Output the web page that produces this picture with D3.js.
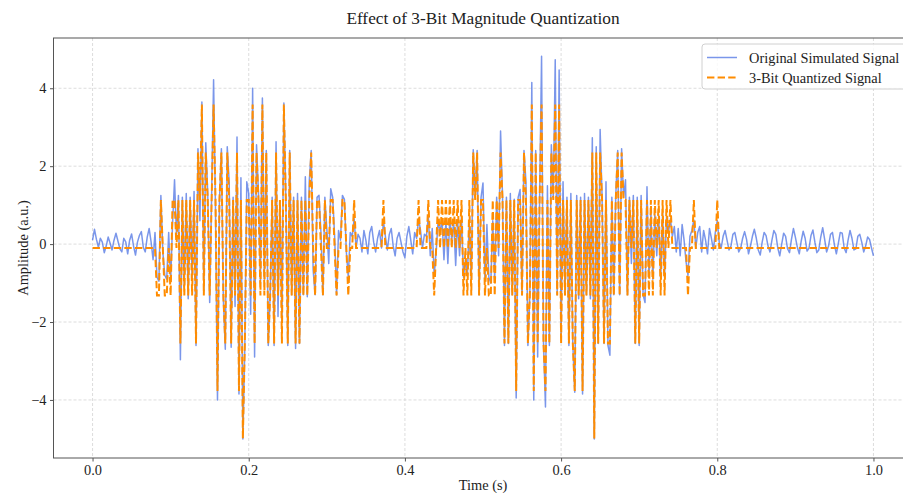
<!DOCTYPE html>
<html>
<head>
<meta charset="utf-8">
<script src="https://cdn.jsdelivr.net/npm/d3@7"></script>
<style>
    body { margin: 0; background: #fff; }
    svg { display: block; font-family: "Liberation Serif", "Times New Roman", serif; }
</style>
</head>
<body>
<div id="visualizer"></div>
<script>
// Data (one sample every 1/400 s)
const sampleRate = 400;

const originalSignal = [
    // 0
    0.10, 0.38, 0.12, -0.08, 0.15, 0.05, -0.22, -0.05, 0.18, 0.02,
    -0.15, 0.10, 0.28, 0.08, -0.12, -0.20, 0.15, 0.06, -0.25, 0.10,
    0.26, -0.05, -0.28, 0.05, 0.22, 0.32, -0.08, -0.20, 0.18, 0.40,
    0.05, -0.40, 0.30, -0.85, -0.95, 1.25, -0.20, -0.80, -0.90, 0.30,
    -0.95, 0.55, 1.65, 0.20, 1.25, -2.97, 1.20, -1.10, 1.30, -1.40,
    // 50
    1.20, -0.90, 1.35, -2.60, 2.45, 0.60, 3.65, -1.20, 2.60, 1.30,
    -1.50, 1.25, 4.22, 0.80, -4.00, 1.10, 2.45, -1.40, -2.70, 2.50,
    1.57, -2.65, 1.20, -1.60, 2.75, -3.85, 1.70, -5.00, -2.60, 1.60,
    1.30, -1.80, 4.00, -2.90, 2.55, 1.30, -1.00, 3.75, -0.90, 2.40,
    -2.60, -1.30, 1.20, -2.60, 2.63, -1.86, 1.10, -2.00, 3.62, 1.20,
    // 100
    -2.60, 2.40, -1.30, 1.20, -2.68, 1.30, -2.55, 1.20, -1.30, 1.73,
    -1.35, 1.60, 2.40, -0.66, -1.30, 1.20, 1.25, 0.30, -1.30, 1.20,
    0.40, -0.50, 1.42, 1.20, 0.20, -1.30, 0.35, 0.10, 1.25, 1.15,
    -0.20, -0.85, 0.30, 0.20, 0.65, -0.10, 0.25, 0.15, -0.20, 0.35,
    0.10, -0.25, 0.30, 0.45, 0.05, -0.20, 0.15, 0.35, -0.10, 0.60,
    // 150
    0.20, -0.15, 0.25, 0.40, -0.05, -0.30, 0.15, 0.30, 0.05, -0.20,
    -0.35, 0.20, 0.45, 0.10, -0.25, 0.30, 0.15, 0.65, 0.35, -0.10,
    0.25, 0.20, 0.70, -0.30, 0.40, -0.80, -0.20, 0.60, 0.30, 0.65,
    -0.40, 0.60, -0.50, 0.65, 0.10, 0.58, -0.55, 0.62, -0.30, 0.70,
    -0.85, -0.40, -0.80, 0.60, -0.90, 2.42, 1.20, 2.40, -1.30, 1.20,
    // 200
    1.57, -0.95, 0.50, -0.85, -1.00, 0.60, -0.90, 1.20, -0.30, 2.90,
    1.25, -2.60, 1.20, -2.55, 1.30, -1.30, 1.15, -3.95, 1.20, 1.40,
    -1.30, 2.40, 1.60, -2.60, -1.30, 4.15, -4.00, 2.40, -2.90, 1.20,
    4.82, -2.55, -4.18, 1.50, -2.60, 2.55, 1.20, 4.73, -1.30, 4.47,
    -2.40, 1.60, -1.30, 1.20, -2.60, 1.30, -2.55, -3.80, 1.25, -1.40,
    // 250
    1.20, -3.85, 1.30, -1.30, 1.20, -1.40, 2.73, -5.00, 2.50, -2.55,
    2.94, 1.20, -2.55, 1.60, -2.60, -2.85, 1.20, -1.30, 1.25, 2.40,
    -1.30, 2.45, 1.20, 1.65, -1.30, 1.20, -0.50, 1.25, -2.55, 1.20,
    -2.60, 1.25, -1.30, -1.50, 1.47, -0.85, 0.80, -0.90, 0.75, -0.30,
    0.75, -0.90, 0.80, -0.85, 0.70, 0.30, 0.65, 0.20, 0.45, -0.20,
    // 300
    0.40, -0.30, 0.50, 0.10, -0.45, -0.80, 0.20, 0.35, 0.62, -0.10,
    0.30, 0.45, -0.20, 0.35, 0.10, -0.25, 0.40, 0.15, -0.15, 0.30,
    0.60, 0.05, -0.10, 0.20, 0.35, 0.10, -0.15, -0.05, 0.25, 0.30,
    0.05, -0.20, -0.10, 0.15, 0.32, 0.12, -0.25, -0.05, 0.20, 0.38,
    0.15, -0.15, -0.28, 0.05, 0.30, 0.22, -0.05, -0.20, 0.10, 0.35,
    // 350
    0.25, -0.10, -0.30, 0.00, 0.28, 0.20, -0.12, -0.22, 0.12, 0.40,
    0.18, -0.08, -0.25, 0.08, 0.33, 0.15, -0.18, -0.10, 0.22, 0.36,
    0.05, -0.22, -0.15, 0.18, 0.42, 0.12, -0.20, -0.05, 0.25, 0.30,
    -0.02, -0.25, 0.02, 0.30, 0.28, -0.10, -0.22, 0.10, 0.35, 0.15,
    -0.15, -0.12, 0.20, 0.25, 0.05, -0.20, -0.05, 0.18, 0.12, -0.10,
    // 400
    -0.30
];

// the 8 output levels of the 3-bit quantizer
const quantLevels = [-4.99, -3.77, -2.55, -1.32, -0.10, 1.13, 2.35, 3.58];

// 3-bit code of each sample (index into quantLevels)
const quantizedCode = [
    // 0
    4, 4, 4, 4, 4, 4, 4, 4, 4, 4,
    4, 4, 4, 4, 4, 4, 4, 4, 4, 4,
    4, 4, 4, 4, 4, 4, 4, 4, 4, 4,
    4, 4, 4, 3, 3, 5, 4, 3, 3, 4,
    3, 5, 5, 4, 5, 2, 5, 3, 5, 3,
    // 50
    5, 3, 5, 2, 6, 5, 7, 3, 6, 5,
    3, 5, 7, 5, 1, 5, 6, 3, 2, 6,
    5, 2, 5, 3, 6, 1, 5, 0, 2, 5,
    5, 3, 7, 2, 6, 5, 3, 7, 3, 6,
    2, 3, 5, 2, 6, 3, 5, 2, 7, 5,
    // 100
    2, 6, 3, 5, 2, 5, 2, 5, 3, 5,
    3, 5, 6, 4, 3, 5, 5, 4, 3, 5,
    4, 4, 5, 5, 4, 3, 4, 4, 5, 5,
    4, 3, 4, 4, 5, 4, 4, 4, 4, 4,
    4, 4, 4, 4, 4, 4, 4, 4, 4, 5,
    // 150
    4, 4, 4, 4, 4, 4, 4, 4, 4, 4,
    4, 4, 4, 4, 4, 4, 4, 5, 4, 4,
    4, 4, 5, 4, 4, 3, 4, 5, 4, 5,
    4, 5, 4, 5, 4, 5, 4, 5, 4, 5,
    3, 4, 3, 5, 3, 6, 5, 6, 3, 5,
    // 200
    5, 3, 4, 3, 3, 5, 3, 5, 4, 6,
    5, 2, 5, 2, 5, 3, 5, 1, 5, 5,
    3, 6, 5, 2, 3, 7, 1, 6, 2, 5,
    7, 2, 1, 5, 2, 6, 5, 7, 3, 7,
    2, 5, 3, 5, 2, 5, 2, 1, 5, 3,
    // 250
    5, 1, 5, 3, 5, 3, 6, 0, 6, 2,
    6, 5, 2, 5, 2, 2, 5, 3, 5, 6,
    3, 6, 5, 5, 3, 5, 4, 5, 2, 5,
    2, 5, 3, 3, 5, 3, 5, 3, 5, 4,
    5, 3, 5, 3, 5, 4, 5, 4, 4, 4,
    // 300
    4, 4, 4, 4, 4, 3, 4, 4, 5, 4,
    4, 4, 4, 4, 4, 4, 4, 4, 4, 4,
    5, 4, 4, 4, 4, 4, 4, 4, 4, 4,
    4, 4, 4, 4, 4, 4, 4, 4, 4, 4,
    4, 4, 4, 4, 4, 4, 4, 4, 4, 4,
    // 350
    4, 4, 4, 4, 4, 4, 4, 4, 4, 4,
    4, 4, 4, 4, 4, 4, 4, 4, 4, 4,
    4, 4, 4, 4, 4, 4, 4, 4, 4, 4,
    4, 4, 4, 4, 4, 4, 4, 4, 4, 4,
    4, 4, 4, 4, 4, 4, 4, 4, 4, 4,
    // 400
    4
];

const xTicks = [0.0, 0.2, 0.4, 0.6, 0.8, 1.0];
const yTicks = [-4, -2, 0, 2, 4];
const seriesNames = ["Original Simulated Signal", "3-Bit Quantized Signal"];

function onDOMContentLoaded() {
    // SVG props
    const width = 903,
        height = 493;
    const plot = { left: 53.5, right: 912.5, top: 38, bottom: 458 };
    const blue = "#4169e1",
        orange = "#ff8c00",
        textColor = "#222";

    const quantizedSignal = quantizedCode.map(c => quantLevels[c]);

    const svg = d3.select("#visualizer")
        .append("svg")
        .attr("width", width)
        .attr("height", height);

    svg.append("rect")
        .attr("width", width)
        .attr("height", height)
        .attr("fill", "#fff");

    // scales (5% padding like matplotlib)
    const xScale = d3.scaleLinear()
        .domain([-0.05, 1.05])
        .range([plot.left, plot.right]);
    const yScale = d3.scaleLinear()
        .domain([-5.49, 5.29])
        .range([plot.bottom, plot.top]);

    // grid
    const grid = svg.append("g")
        .attr("stroke", "#d4d4d4")
        .attr("stroke-width", 0.8)
        .attr("stroke-dasharray", "3,2");
    grid.selectAll(".vgrid")
        .data(xTicks)
        .join("line")
        .attr("x1", d => xScale(d))
        .attr("x2", d => xScale(d))
        .attr("y1", plot.top)
        .attr("y2", plot.bottom);
    grid.selectAll(".hgrid")
        .data(yTicks)
        .join("line")
        .attr("x1", plot.left)
        .attr("x2", plot.right)
        .attr("y1", d => yScale(d))
        .attr("y2", d => yScale(d));

    // lines
    svg.append("clipPath")
        .attr("id", "plot-clip")
        .append("rect")
        .attr("x", plot.left)
        .attr("y", plot.top)
        .attr("width", plot.right - plot.left)
        .attr("height", plot.bottom - plot.top);

    const line = d3.line()
        .x((d, i) => xScale(i / sampleRate))
        .y(d => yScale(d));

    const lines = svg.append("g").attr("clip-path", "url(#plot-clip)");
    lines.append("path")
        .datum(originalSignal)
        .attr("d", line)
        .attr("fill", "none")
        .attr("stroke", blue)
        .attr("stroke-opacity", 0.7)
        .attr("stroke-width", 1.5)
        .attr("stroke-linejoin", "round");
    lines.append("path")
        .datum(quantizedSignal)
        .attr("d", line)
        .attr("fill", "none")
        .attr("stroke", orange)
        .attr("stroke-width", 2)
        .attr("stroke-dasharray", "7.4,3.2");

    // frame
    svg.append("rect")
        .attr("x", plot.left)
        .attr("y", plot.top)
        .attr("width", plot.right - plot.left)
        .attr("height", plot.bottom - plot.top)
        .attr("fill", "none")
        .attr("stroke", "#555")
        .attr("stroke-width", 1);

    // x axis
    const xAxis = d3.axisBottom(xScale)
        .tickValues(xTicks)
        .tickFormat(d3.format(".1f"))
        .tickSize(3.5)
        .tickPadding(3);
    const gx = svg.append("g")
        .attr("transform", `translate(0, ${plot.bottom})`)
        .call(xAxis);

    // y axis
    const yAxis = d3.axisLeft(yScale)
        .tickValues(yTicks)
        .tickFormat(d3.format("d"))
        .tickSize(3.5)
        .tickPadding(3.5);
    const gy = svg.append("g")
        .attr("transform", `translate(${plot.left}, 0)`)
        .call(yAxis);

    [gx, gy].forEach(g => {
        g.select(".domain").remove();
        g.selectAll(".tick line").attr("stroke", "#555");
        g.selectAll(".tick text")
            .attr("fill", textColor)
            .style("font-family", "\"Liberation Serif\", serif")
            .style("font-size", "14.4px");
    });

    // labels
    svg.append("text")
        .attr("x", (plot.left + plot.right) / 2)
        .attr("y", 24)
        .attr("text-anchor", "middle")
        .attr("fill", textColor)
        .style("font-size", "17.3px")
        .text("Effect of 3-Bit Magnitude Quantization");

    svg.append("text")
        .attr("x", (plot.left + plot.right) / 2)
        .attr("y", 490)
        .attr("text-anchor", "middle")
        .attr("fill", textColor)
        .style("font-size", "14.4px")
        .text("Time (s)");

    svg.append("text")
        .attr("transform", `translate(28, ${(plot.top + plot.bottom) / 2}) rotate(-90)`)
        .attr("text-anchor", "middle")
        .attr("fill", textColor)
        .style("font-size", "14.4px")
        .text("Amplitude (a.u.)");

    // legend
    const legend = svg.append("g").attr("transform", "translate(702, 44)");
    legend.append("rect")
        .attr("width", 230)
        .attr("height", 45)
        .attr("rx", 3)
        .attr("fill", "#fff")
        .attr("fill-opacity", 0.8)
        .attr("stroke", "#d0d0d0")
        .attr("stroke-width", 1);

    const legendStyles = [
        { color: blue, opacity: 0.7, width: 1.5, dash: null },
        { color: orange, opacity: 1, width: 2, dash: "7.4,3.2" }
    ];
    const rows = legend.selectAll(".row")
        .data(seriesNames)
        .join("g")
        .attr("transform", (d, i) => `translate(0, ${13.5 + i * 20})`);
    rows.append("line")
        .attr("x1", 5)
        .attr("x2", 35)
        .attr("stroke", (d, i) => legendStyles[i].color)
        .attr("stroke-opacity", (d, i) => legendStyles[i].opacity)
        .attr("stroke-width", (d, i) => legendStyles[i].width)
        .attr("stroke-dasharray", (d, i) => legendStyles[i].dash);
    rows.append("text")
        .attr("x", 47)
        .attr("y", 5)
        .attr("fill", textColor)
        .style("font-size", "14.4px")
        .text(d => d);
}

document.addEventListener("DOMContentLoaded", onDOMContentLoaded);
</script>
</body>
</html>
